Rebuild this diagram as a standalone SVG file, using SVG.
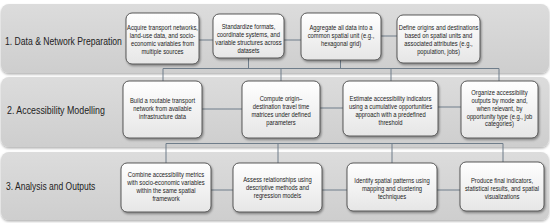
<svg xmlns="http://www.w3.org/2000/svg" width="550" height="223" viewBox="0 0 550 223">
<defs>
<linearGradient id="bandG" x1="0" y1="0" x2="0" y2="1">
<stop offset="0" stop-color="#dcdcdc"/>
<stop offset="1" stop-color="#cecece"/>
</linearGradient>
<linearGradient id="nodeG" x1="0" y1="0" x2="0" y2="1">
<stop offset="0" stop-color="#ffffff"/>
<stop offset="1" stop-color="#e6e6e6"/>
</linearGradient>
<filter id="bandS" x="-5%" y="-10%" width="110%" height="130%">
<feDropShadow dx="0" dy="1.5" stdDeviation="1" flood-color="#000" flood-opacity="0.3"/>
</filter>
<filter id="nodeS" x="-10%" y="-10%" width="125%" height="130%">
<feDropShadow dx="1" dy="1.5" stdDeviation="1" flood-color="#000" flood-opacity="0.4"/>
</filter>
</defs>
<style>
.band{fill:url(#bandG);filter:url(#bandS);}
.node{fill:url(#nodeG);stroke:#4a4a4a;stroke-width:0.9;filter:url(#nodeS);}
.lbl{font-family:"Liberation Sans",Arial,sans-serif;font-size:11.5px;fill:#222;}
.nt{font-family:"Liberation Sans",Arial,sans-serif;font-size:6.9px;fill:#222;text-anchor:middle;}
.con{fill:none;stroke:#6f7d8a;stroke-width:1;}
</style>
<rect width="550" height="223" fill="#ffffff"/>
<g id="bands">
<rect class="band" x="1" y="4" width="548" height="69" rx="8"/>
<rect class="band" x="1" y="77" width="548" height="70" rx="8"/>
<rect class="band" x="1" y="152" width="548" height="68" rx="8"/>
<text class="lbl" transform="translate(5 45) scale(0.75 1)" x="0" y="0">1. Data &amp; Network Preparation</text>
<text class="lbl" transform="translate(7 114) scale(0.77 1)" x="0" y="0">2. Accessibility Modelling</text>
<text class="lbl" transform="translate(6 190) scale(0.74 1)" x="0" y="0">3. Analysis and Outputs</text>
</g>
<g id="connectors">
<path class="con" d="M199 40H213M284 40H301M381 36H397"/>
<path class="con" d="M248.5 58V68.5M340.5 60V68.5M163 68.5H499M163 68.5V81M281 68.5V81M391 68.5V81M499 68.5V81"/>
<path class="con" d="M202 109H242M320 108H343M438 107H461"/>
<path class="con" d="M166 143.5H503M166 143.5V163M278 143.5V163M392 143.5V163M503 143.5V162"/>
<path class="con" d="M211 190H233M322 190H347M437 190H460"/>
</g>
<g id="n1a">
<rect class="node" x="126" y="13" width="73" height="51" rx="6"/>
<text class="nt" transform="translate(162.5 0) scale(0.846 1)"><tspan x="0" y="29.6">Acquire transport networks,</tspan><tspan x="0" y="37.6">land-use data, and socio-</tspan><tspan x="0" y="45.6">economic variables from</tspan><tspan x="0" y="53.6">multiple sources</tspan></text>
</g>
<g id="n1b">
<rect class="node" x="213" y="14" width="71" height="44" rx="6"/>
<text class="nt" transform="translate(248.5 0) scale(0.846 1)"><tspan x="0" y="28.6">Standardize formats,</tspan><tspan x="0" y="36.6">coordinate systems, and</tspan><tspan x="0" y="44.6">variable structures across</tspan><tspan x="0" y="52.6">datasets</tspan></text>
</g>
<g id="n1c">
<rect class="node" x="301" y="13" width="80" height="47" rx="6"/>
<text class="nt" transform="translate(341 0) scale(0.846 1)"><tspan x="0" y="29.6">Aggregate all data into a</tspan><tspan x="0" y="37.6">common spatial unit (e.g.,</tspan><tspan x="0" y="45.6">hexagonal grid)</tspan></text>
</g>
<g id="n1d">
<rect class="node" x="397" y="15" width="83" height="48" rx="6"/>
<text class="nt" transform="translate(438.5 0) scale(0.846 1)"><tspan x="0" y="29.6">Define origins and destinations</tspan><tspan x="0" y="37.6">based on spatial units and</tspan><tspan x="0" y="45.6">associated attributes (e.g.,</tspan><tspan x="0" y="53.6">population, jobs)</tspan></text>
</g>
<g id="n2a">
<rect class="node" x="123" y="81" width="79" height="57" rx="6"/>
<text class="nt" transform="translate(162.5 0) scale(0.846 1)"><tspan x="0" y="102.6">Build a routable transport</tspan><tspan x="0" y="110.6">network from available</tspan><tspan x="0" y="118.6">infrastructure data</tspan></text>
</g>
<g id="n2b">
<rect class="node" x="242" y="81" width="78" height="57" rx="6"/>
<text class="nt" transform="translate(281 0) scale(0.846 1)"><tspan x="0" y="100.6">Compute origin–</tspan><tspan x="0" y="108.6">destination travel time</tspan><tspan x="0" y="116.6">matrices under defined</tspan><tspan x="0" y="124.6">parameters</tspan></text>
</g>
<g id="n2c">
<rect class="node" x="343" y="81" width="95" height="55" rx="6"/>
<text class="nt" transform="translate(390.5 0) scale(0.846 1)"><tspan x="0" y="101.1">Estimate accessibility indicators</tspan><tspan x="0" y="109.1">using a cumulative opportunities</tspan><tspan x="0" y="117.1">approach with a predefined</tspan><tspan x="0" y="125.1">threshold</tspan></text>
</g>
<g id="n2d">
<rect class="node" x="461" y="81" width="77" height="57" rx="6"/>
<text class="nt" transform="translate(499.5 0) scale(0.846 1)"><tspan x="0" y="95.2">Organize accessibility</tspan><tspan x="0" y="103">outputs by mode and,</tspan><tspan x="0" y="110.8">when relevant, by</tspan><tspan x="0" y="118.6">opportunity type (e.g., job</tspan><tspan x="0" y="126.4">categories)</tspan></text>
</g>
<g id="n3a">
<rect class="node" x="121" y="163" width="90" height="49" rx="6"/>
<text class="nt" transform="translate(166 0) scale(0.846 1)"><tspan x="0" y="177.1">Combine accessibility metrics</tspan><tspan x="0" y="185.1">with socio-economic variables</tspan><tspan x="0" y="193.1">within the same spatial</tspan><tspan x="0" y="201.1">framework</tspan></text>
</g>
<g id="n3b">
<rect class="node" x="233" y="163" width="89" height="49" rx="6"/>
<text class="nt" transform="translate(277.5 0) scale(0.846 1)"><tspan x="0" y="182.1">Assess relationships using</tspan><tspan x="0" y="190.1">descriptive methods and</tspan><tspan x="0" y="198.1">regression models</tspan></text>
</g>
<g id="n3c">
<rect class="node" x="347" y="163" width="90" height="48" rx="6"/>
<text class="nt" transform="translate(392 0) scale(0.846 1)"><tspan x="0" y="182.6">Identify spatial patterns using</tspan><tspan x="0" y="190.6">mapping and clustering</tspan><tspan x="0" y="198.6">techniques</tspan></text>
</g>
<g id="n3d">
<rect class="node" x="460" y="162" width="84" height="49" rx="6"/>
<text class="nt" transform="translate(502 0) scale(0.846 1)"><tspan x="0" y="182.6">Produce final indicators,</tspan><tspan x="0" y="190.6">statistical results, and spatial</tspan><tspan x="0" y="198.6">visualizations</tspan></text>
</g>
</svg>
